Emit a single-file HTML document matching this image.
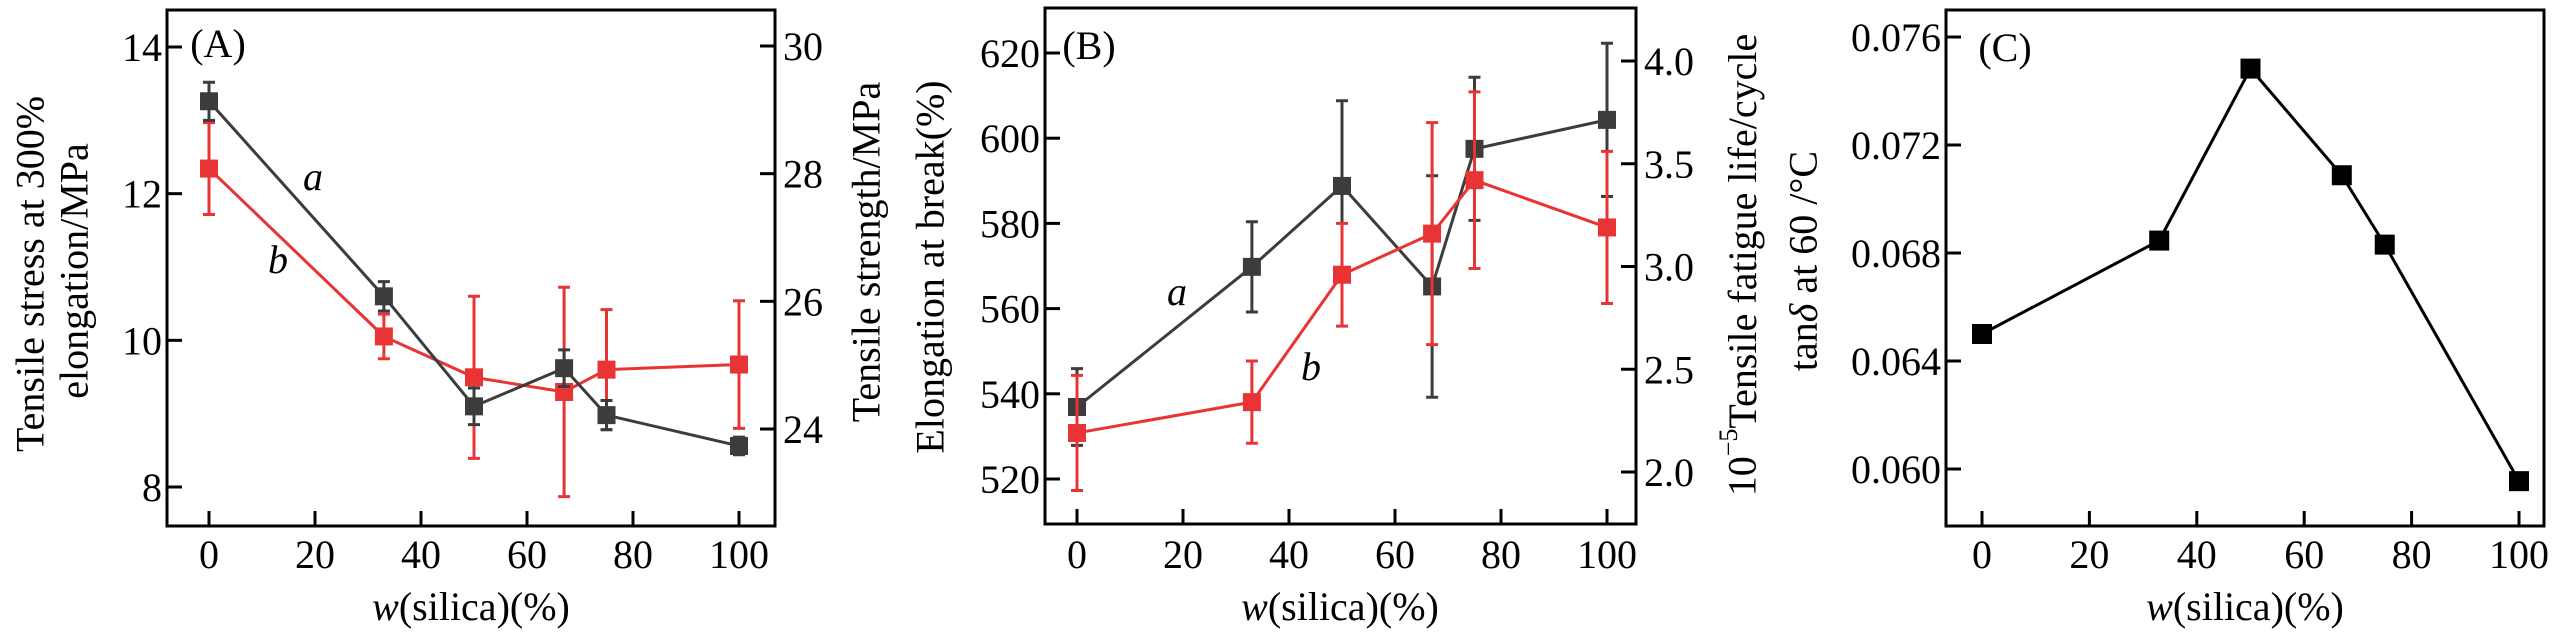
<!DOCTYPE html>
<html><head><meta charset="utf-8"><style>
html,body{margin:0;padding:0;background:#fff;}
svg, svg text{font-family:"Liberation Serif","DejaVu Serif",serif;fill:#000;}
</style></head><body>
<svg id="chart" width="2567" height="637" viewBox="0 0 2567 637" xmlns="http://www.w3.org/2000/svg" font-family="Liberation Serif, DejaVu Serif, serif"></svg>
<script>
// Shared x data
const silica = [0, 33, 50, 67, 75, 100];
const xTicks = [0, 20, 40, 60, 80, 100];
// Panel A
const aStress = [13.26, 10.6, 9.1, 9.62, 8.98, 8.56];
const aStressErr = [0.26, 0.2, 0.25, 0.25, 0.2, 0.12];
const bStrength = [28.08, 25.45, 24.81, 24.58, 24.93, 25.01];
const bStrengthErr = [0.72, 0.35, 1.27, 1.64, 0.94, 1.0];
const aLeftTicks = [8, 10, 12, 14];
const aRightTicks = [24, 26, 28, 30];
// Panel B
const aElong = [536.9, 569.8, 588.8, 565.2, 597.5, 604.3];
const aElongErr = [9, 10.6, 20, 26, 16.8, 18];
const bFatigue = [2.19, 2.34, 2.96, 3.16, 3.42, 3.19];
const bFatigueErr = [0.28, 0.2, 0.25, 0.54, 0.43, 0.37];
const bLeftTicks = [520, 540, 560, 580, 600, 620];
const bRightTicks = ["2.0", "2.5", "3.0", "3.5", "4.0"];
// Panel C
const tanDelta = [0.0650, 0.06846, 0.07483, 0.07088, 0.06831, 0.05955];
const cTicks = ["0.060", "0.064", "0.068", "0.072", "0.076"];

const NS = "http://www.w3.org/2000/svg";
const FONT = "Liberation Serif, DejaVu Serif, serif";
const svg = document.getElementById('chart');
function mk(tag, attrs, parent, txt) {
  const e = document.createElementNS(NS, tag);
  for (const k in attrs) e.setAttribute(k, attrs[k]);
  if (tag === 'text') e.setAttribute('font-family', FONT);
  if (txt !== undefined) e.textContent = txt;
  (parent || svg).appendChild(e);
  return e;
}
function lin(d0, d1, r0, r1) { return v => r0 + (v - d0) * (r1 - r0) / (d1 - d0); }

function frame(g, L, R, T, B) {
  const f = mk('rect', {x: L, y: T, width: R - L, height: B - T, fill: 'none', stroke: '#000', 'stroke-width': 3}, g);
  
  
}
function xAxis(g, sx, B) {
  xTicks.forEach(t => {
    const l = mk('line', {x1: sx(t), x2: sx(t), y1: B, y2: B - 15, stroke: '#000', 'stroke-width': 3}, g);
    
    
    const tx = mk('text', {x: sx(t), y: 568, 'font-size': 40, 'text-anchor': 'middle'}, g, t);
    
    
  });
}
function yAxis(g, sy, ticks, X, side) {
  ticks.forEach(t => {
    const y = sy(parseFloat(t));
    const dx = side === 'left' ? 15 : -15;
    const l = mk('line', {x1: X, x2: X + dx, y1: y, y2: y, stroke: '#000', 'stroke-width': 3}, g);
    
    
    const tx = mk('text', {x: side === 'left' ? X - 5 : X + 8, y: y + 14, 'font-size': 40, 'text-anchor': side === 'left' ? 'end' : 'start'}, g, t);
    
    
  });
}
function series(g, sx, sy, vals, errs, color, name, msize) {
  const sg = mk('g', {}, g);
  
  
  if (errs) {
    vals.forEach((v, i) => {
      const x = sx(silica[i]);
      const y1 = sy(v + errs[i]), y2 = sy(v - errs[i]);
      const e = mk('path', {d: `M${x},${y1}V${y2}M${x-6},${y1}H${x+6}M${x-6},${y2}H${x+6}`, stroke: color, 'stroke-width': 3, fill: 'none'}, sg);
      
      
    });
  }
  const d = vals.map((v, i) => (i ? 'L' : 'M') + sx(silica[i]) + ',' + sy(v)).join('');
  const ln = mk('path', {d: d, stroke: color, 'stroke-width': 3, fill: 'none'}, sg);
  
  
  vals.forEach((v, i) => {
    const m = mk('rect', {x: sx(silica[i]) - msize / 2, y: sy(v) - msize / 2, width: msize, height: msize, fill: color}, sg);
    
    
  });
}
function label(g, x, y, txt, name, opts) {
  const t = mk('text', Object.assign({x: x, y: y, 'font-size': 40, 'text-anchor': 'middle'}, opts || {}), g);
  t.innerHTML = txt;
  
  
  return t;
}
function vlabel(g, cx, cy, txt, name) {
  const t = mk('text', {x: 0, y: 0, 'font-size': 40, 'text-anchor': 'middle', 'dominant-baseline': 'central', transform: `translate(${cx},${cy}) rotate(-90)`}, g);
  t.innerHTML = txt;
  
  
}

// ---- Panel A ----
{
  const g = mk('g', {});  
  const L = 167, R = 775, T = 10, B = 526;
  const sx = lin(0, 100, 209, 739);
  const syL = lin(8, 14, 487, 47);
  const syR = lin(24, 30, 429, 46);
  frame(g, L, R, T, B); xAxis(g, sx, B);
  yAxis(g, syL, aLeftTicks, L, 'left'); yAxis(g, syR, aRightTicks, R, 'right');
  series(g, sx, syR, bStrength, bStrengthErr, '#e83434', 'series-b-tensile-strength', 18);
  series(g, sx, syL, aStress, aStressErr, '#3c3c3c', 'series-a-tensile-stress', 18);
  label(g, 218, 57, '(A)', 'panel-label-a');
  label(g, 313, 190, 'a', 'series-a-label', {'font-style': 'italic'});
  label(g, 278, 273, 'b', 'series-b-label', {'font-style': 'italic'});
  label(g, 471, 620, '<tspan font-style="italic">w</tspan>(silica)(%)', 'x-axis-title');
  vlabel(g, 30, 274, 'Tensile stress at 300%', 'left-y-axis-title-line1');
  vlabel(g, 74, 271, 'elongation/MPa', 'left-y-axis-title-line2');
  vlabel(g, 866, 252, 'Tensile strength/MPa', 'right-y-axis-title');
}
// ---- Panel B ----
{
  const g = mk('g', {});  
  const L = 1045, R = 1636, T = 8, B = 524;
  const sx = lin(0, 100, 1077, 1607);
  const syL = lin(520, 620, 479, 53);
  const syR = lin(2.0, 4.0, 472, 61);
  frame(g, L, R, T, B); xAxis(g, sx, B);
  yAxis(g, syL, bLeftTicks, L, 'left'); yAxis(g, syR, bRightTicks, R, 'right');
  series(g, sx, syL, aElong, aElongErr, '#3c3c3c', 'series-a-elongation', 18);
  series(g, sx, syR, bFatigue, bFatigueErr, '#e83434', 'series-b-fatigue-life', 18);
  label(g, 1089, 59, '(B)', 'panel-label-b');
  label(g, 1177, 305, 'a', 'series-a-label', {'font-style': 'italic'});
  label(g, 1311, 380, 'b', 'series-b-label', {'font-style': 'italic'});
  label(g, 1340, 620, '<tspan font-style="italic">w</tspan>(silica)(%)', 'x-axis-title');
  vlabel(g, 930, 267, 'Elongation at break(%)', 'left-y-axis-title');
  vlabel(g, 1742, 265, '10<tspan font-size="26" dy="-14">−5</tspan><tspan dy="14">Tensile fatigue life/cycle</tspan>', 'right-y-axis-title');
}
// ---- Panel C ----
{
  const g = mk('g', {});  
  const L = 1946, R = 2544, T = 10, B = 526;
  const sx = lin(0, 100, 1982, 2519);
  const sy = lin(0.060, 0.076, 469, 37);
  frame(g, L, R, T, B); xAxis(g, sx, B);
  yAxis(g, sy, cTicks, L, 'left');
  series(g, sx, sy, tanDelta, null, '#000', 'series-tan-delta', 20);
  label(g, 2005, 61, '(C)', 'panel-label-c');
  label(g, 2245, 620, '<tspan font-style="italic">w</tspan>(silica)(%)', 'x-axis-title');
  vlabel(g, 1803, 261, 'tan<tspan font-style="italic">δ</tspan> at 60 /°C', 'y-axis-title');
}
</script>
</body></html>
